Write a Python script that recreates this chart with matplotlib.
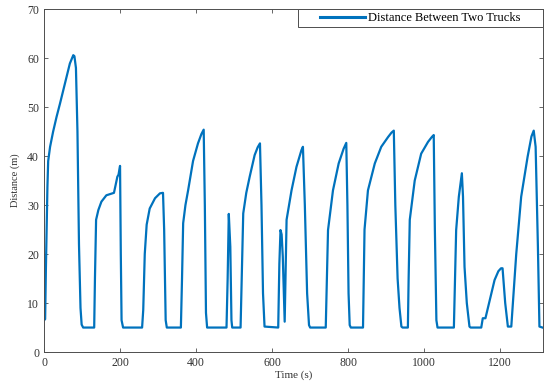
import matplotlib
matplotlib.use("Agg")
import matplotlib.pyplot as plt
from matplotlib.legend_handler import HandlerLine2D

# values (time in s, distance in m)
time_s = [0, 3, 5, 9, 11, 16, 24, 33, 42, 55, 68, 77, 80, 84, 88, 92, 96, 99, 103,
          132, 134, 137, 143, 151, 164, 184, 188, 193, 196, 200, 202, 204, 208,
          258, 261, 265, 270, 278, 292, 305, 313, 316, 320, 323,
          360, 363, 366, 372, 379, 392, 405, 414, 420, 423, 426, 429,
          480, 483, 486, 490, 493, 495,
          517, 520, 524, 532, 541, 554, 562, 568, 572, 576, 580,
          616, 619, 622, 625, 628, 633, 638, 651, 664, 677, 681, 686, 692, 697, 700,
          741, 744, 747, 760, 775, 788, 795, 798, 801, 804, 807,
          839, 843, 852, 870, 887, 905, 914, 920, 924, 930, 935, 940, 943,
          957, 959, 962, 975, 992, 1010, 1020, 1025, 1028, 1032, 1035,
          1078, 1081, 1084, 1091, 1099, 1102, 1106, 1112, 1119, 1122,
          1150, 1154, 1161, 1172, 1185, 1195, 1202, 1206, 1213, 1220, 1229,
          1242, 1255, 1272, 1282, 1288, 1293, 1299, 1303, 1311]
distance_m = [6.5, 6.7, 17, 33.7, 39, 41.9, 45, 48, 50.7, 54.8, 58.9, 60.6, 60.4, 58, 45, 22, 9, 5.6, 5,
              5, 15, 27, 29, 30.7, 32, 32.5, 34, 35.8, 36.2, 38, 20, 6.5, 5,
              5, 8.6, 20, 26, 29.3, 31.4, 32.4, 32.5, 25, 6.5, 5,
              5, 15, 26.3, 30, 33, 39, 42.6, 44.5, 45.4, 30, 8, 5,
              5, 15, 28.2, 21.5, 6.5, 5,
              5, 15, 28.3, 32.5, 35.8, 40.2, 41.8, 42.6, 30, 12, 5.2,
              5, 18, 24.9, 24, 19.5, 6.2, 27, 33, 37.8, 41.2, 41.9, 30, 12, 5.5, 5,
              5, 15, 24.9, 33, 38.5, 41.5, 42.7, 30, 12, 5.5, 5,
              5, 25, 33, 38.5, 41.9, 43.9, 44.8, 45.2, 30, 15, 9, 5.2, 5,
              5, 15, 27, 35, 40.5, 42.9, 43.9, 44.3, 25, 6.5, 5,
              5, 15, 24.9, 31.7, 36.5, 31.7, 17.4, 10, 5.2, 5,
              5, 6.9, 6.9, 10.5, 14.7, 16.5, 17.1, 17.1, 10, 5.2, 5.2,
              20, 31.7, 39.9, 44, 45.2, 41.9, 21.5, 5.2, 5]

plt.rcParams['font.family'] = ['Liberation Serif', 'DejaVu Serif']
axis_grey = '#4d4d4d'

fig = plt.figure(figsize=(5.5, 3.81), dpi=100)
ax = fig.add_axes([0.08, 0.076, 0.907, 0.9])
line, = ax.plot(time_s, distance_m, color='#0072BD', linewidth=1.6)

ax.set_xlim(0, 1312)
ax.set_ylim(0, 70)
ax.set_xticks([0, 200, 400, 600, 800, 1000, 1200])
ax.set_yticks(range(0, 71, 10))
ax.tick_params(direction='in', length=3, width=0.6, colors=axis_grey,
               labelcolor='#333333', labelsize=8.5, top=True, right=True)
for sp in ax.spines.values():
    sp.set_color(axis_grey)
    sp.set_linewidth(0.7)

ax.set_xlabel('Time (s)', fontsize=8, color='#333333', labelpad=1)
ax.set_ylabel('Distance (m)', fontsize=7.5, color='#333333', labelpad=5)

# legend: empty room left of the line sample, as in the reference
leg = ax.legend([line], ['Distance Between Two Trucks      '], loc='upper right',
                fontsize=9, frameon=True, fancybox=False, borderaxespad=0,
                handlelength=5.1, borderpad=0.25, handletextpad=0.3,
                handler_map={line: HandlerLine2D(xpad=1.5)})
leg.get_frame().set_edgecolor(axis_grey)
leg.get_frame().set_linewidth(0.7)
leg.get_frame().set_alpha(1)
for l in leg.get_lines():
    l.set_linewidth(2.2)

fig.savefig('out.png', dpi=100)
